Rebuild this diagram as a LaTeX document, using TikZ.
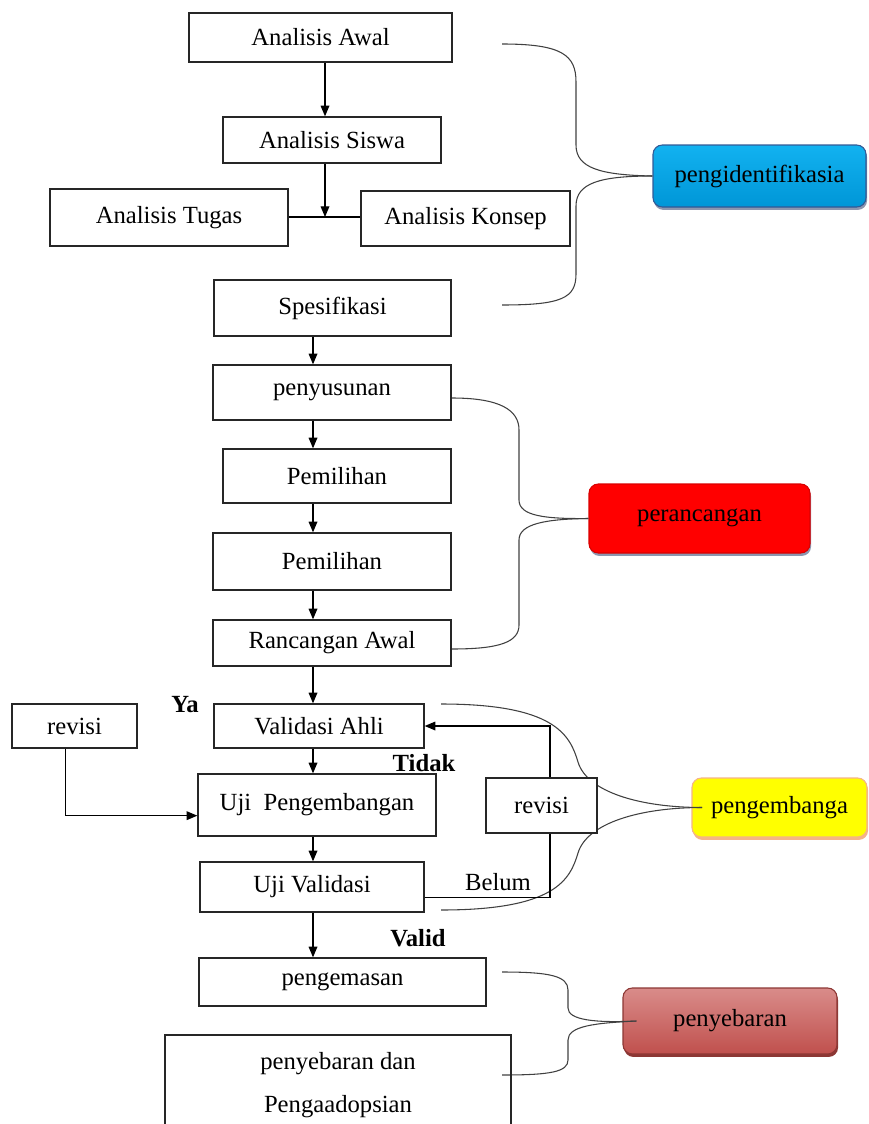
\documentclass[tikz,border=0pt]{standalone}
\usepackage{fontspec}
\setmainfont{Liberation Serif}
\usetikzlibrary{arrows.meta,shadows}

\definecolor{biruid}{RGB}{18,178,240}
\definecolor{birubawah}{RGB}{0,150,215}
\definecolor{birutepi}{RGB}{50,90,150}
\definecolor{merahrc}{RGB}{255,0,0}
\definecolor{kuningpg}{RGB}{255,255,0}
\definecolor{jinggatepi}{RGB}{245,180,135}
\definecolor{sebaratas}{RGB}{217,140,138}
\definecolor{sebarbawah}{RGB}{192,80,77}
\definecolor{sebartepi}{RGB}{140,55,52}
\definecolor{bayangabu}{RGB}{140,150,175}

\newcommand\hurufdasar{\fontsize{18.5}{22}\selectfont}

\begin{document}
\begin{tikzpicture}[x=0.75pt,y=-0.75pt,
    font=\hurufdasar,
    kotak/.style={draw=black!85, line width=1pt, inner sep=0pt},
    ukuran/.style 2 args={minimum width=#1*0.75pt, minimum height=#2*0.75pt},
    panah/.style={-{Triangle[length=8pt,width=6.5pt]}, line width=0.9pt},
    garis/.style={line width=0.9pt},
    kurung/.style={line width=0.8pt, black!75},
    tahap/.style={rounded corners=7pt, inner sep=0pt, line width=0.8pt},
    bayang/.style={drop shadow={shadow xshift=0.8pt, shadow yshift=-2.2pt, fill=#1, opacity=1}},
    tebal/.style={font=\hurufdasar\bfseries}]
  \useasboundingbox (0,0) rectangle (868,1124);
  \clip (0,0) rectangle (868,1124);

  % tahap (kotak berwarna)
  \node[tahap, ukuran={213}{62}, top color=biruid, bottom color=birubawah, draw=birutepi, bayang=bayangabu] (ident) at (759.5,176) {pengidentifikasia};
  \node[tahap, ukuran={221}{69}, fill=merahrc, draw=merahrc!85!black, bayang=bayangabu] (rancang) at (699.5,518.5) {\raisebox{5pt}{perancangan}};
  \node[tahap, ukuran={175}{59}, fill=kuningpg, draw=jinggatepi, bayang=jinggatepi] (kembang) at (779.5,807.5) {pengembanga};
  \node[tahap, ukuran={214}{66}, top color=sebaratas, bottom color=sebarbawah, draw=sebartepi, bayang=sebartepi] (sebar) at (730,1021) {\raisebox{4pt}{penyebaran}};

  % ujung kurung
  \coordinate (idA) at (502,44);
  \coordinate (idB) at (502,305);
  \coordinate (rcA) at (452,398);
  \coordinate (rcB) at (452,649);
  \coordinate (pgA) at (441,704);
  \coordinate (pgB) at (441,910);
  \coordinate (sbA) at (502,972);
  \coordinate (sbB) at (502,1075);

  % kurung kurawal
  \draw[kurung] (idA) .. controls (562,44) and (576,55) .. (576,82) -- (576,145)
    .. controls (576,168) and (600,175) .. (ident.west);
  \draw[kurung] (ident.west) .. controls (600,176) and (576,183) .. (576,206) -- (576,274)
    .. controls (576,298) and (562,305) .. (idB);
  \draw[kurung] (rcA) .. controls (500,398) and (519,410) .. (519,430) -- (519,500)
    .. controls (519,516) and (545,519) .. (rancang.west);
  \draw[kurung] (rancang.west) .. controls (545,519) and (519,524) .. (519,540) -- (519,625)
    .. controls (519,642) and (500,649) .. (rcB);
  \draw[kurung] (pgA) .. controls (555,704) and (570,735) .. (578,762)
    .. controls (587,792) and (640,807.5) .. ([xshift=8pt]kembang.west);
  \draw[kurung] ([xshift=8pt]kembang.west) .. controls (640,807.5) and (587,823) .. (578,853)
    .. controls (570,880) and (555,910) .. (pgB);
  \draw[kurung] (sbA) .. controls (550,972) and (568,976) .. (568,990) -- (568,1008)
    .. controls (568,1020) and (595,1023) .. ([xshift=10.5pt]sebar.west);
  \draw[kurung] ([xshift=10.5pt]sebar.west) .. controls (595,1023) and (568,1026) .. (568,1040) -- (568,1060)
    .. controls (568,1072) and (550,1075) .. (sbB);

  % alur utama
  \node[kotak, ukuran={263}{49}] (awal) at (320.5,37.5) {Analisis Awal};
  \node[kotak, ukuran={218}{46}] (siswa) at (332,140) {Analisis Siswa};
  \node[kotak, ukuran={238}{57}] (tugas) at (169,217.5) {Analisis Tugas};
  \node[kotak, ukuran={209}{55}] (konsep) at (465.5,218.5) {Analisis Konsep};
  \node[kotak, ukuran={237}{56}] (spes) at (332.5,308) {Spesifikasi};
  \node[kotak, ukuran={238}{55}] (susun) at (332,392.5) {penyusunan};
  \node[kotak, ukuran={228}{54}] (pilih1) at (337,476) {Pemilihan};
  \node[kotak, ukuran={238}{57}] (pilih2) at (332,561.5) {Pemilihan};
  \node[kotak, ukuran={238}{46}] (rancangan) at (332,643) {Rancangan Awal};
  \node[kotak, ukuran={210}{44}] (validasi) at (319,726) {Validasi Ahli};
  \node[kotak, ukuran={125}{44}] (revkiri) at (74.5,726) {revisi};
  \node[kotak, ukuran={238}{62}] (ujikembang) at (317,805) {Uji\ \ Pengembangan};
  \node[kotak, ukuran={224}{50}] (ujivalid) at (312,887) {Uji Validasi};
  \node[kotak, fill=white, ukuran={111}{55}] (revkanan) at (541.5,805.5) {revisi};
  \node[kotak, ukuran={287}{48}] (kemas) at (342.5,982) {pengemasan};
  \node[kotak, ukuran={346}{100}, align=center, font=\fontsize{18.5}{32}\selectfont] (adopsi) at (338,1085)
    {penyebaran dan\\Pengaadopsian};

  % keterangan
  \node[tebal] (ya) at (185,705) {Ya};
  \node[tebal] (tidak) at (424,763) {Tidak};
  \node (belum) at (498,882) {Belum};
  \node[tebal] (valid) at (418,938) {Valid};

  % panah
  \coordinate (poros) at (313,0);
  \coordinate (simpang) at (325,217);
  \draw[panah] (awal.south -| simpang) -- (siswa.north -| simpang);
  \draw[panah] (siswa.south -| simpang) -- (simpang);
  \draw[garis] (tugas.east |- simpang) -- (konsep.west |- simpang);
  \foreach \a/\b in {spes/susun, susun/pilih1, pilih1/pilih2, pilih2/rancangan,
      rancangan/validasi, validasi/ujikembang, ujikembang/ujivalid, ujivalid/kemas} {
    \draw[panah] (\a.south -| poros) -- (\b.north -| poros);
  }
  % revisi
  \draw[panah] ([xshift=-7pt]revkiri.south) |- ([yshift=-8pt]ujikembang.west);
  \draw[garis] ([yshift=-8pt]ujivalid.east) -| ([xshift=6.4pt]revkanan.south);
  \draw[panah] ([xshift=6.4pt]revkanan.north) |- (validasi.east);
\end{tikzpicture}
\end{document}
